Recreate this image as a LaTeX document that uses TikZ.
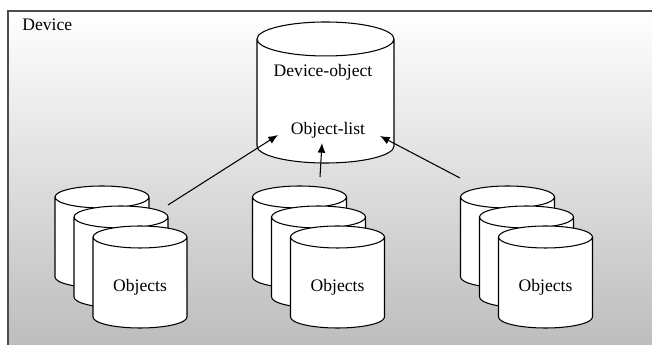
\documentclass[tikz,border=0pt]{standalone}
\usepackage{fontspec}
\setmainfont{Liberation Serif}
\usetikzlibrary{shapes.geometric,arrows.meta,positioning}

\begin{document}
\begin{tikzpicture}[
  can/.style={cylinder, shape border rotate=90, draw=black, fill=white,
    line width=0.6pt, aspect=0.234, text width=1.88cm,
    minimum height=2.04cm, inner sep=0pt, anchor=shape center},
  bigcan/.style={can, aspect=0.248, text width=2.74cm, minimum height=2.82cm},
  link/.style={-{Latex[length=5.5pt,width=4.5pt]}, line width=0.6pt}
]
\useasboundingbox (0,0) rectangle (13.04,6.9);
\clip (0,0) rectangle (13.04,6.9);

% Device frame
\shade[top color=white, bottom color=black!27] (0.16,6.68) rectangle (13.3,-0.3);
\draw[black!70, line width=0.8pt] (0.16,-0.3) -- (0.16,6.68) -- (13.3,6.68);
\node[anchor=west, inner sep=0pt] (device) at (0.44,6.4) {Device};

% Device-object
\node[bigcan] (devobj) at (6.51,5.05) {};
\node (devname) at (6.46,5.46) {Device-object};
\node (objlist) at (6.56,4.30) {Object-list};

% Objects, left
\node[can] (lback) at (2.04,2.16) {};
\node[can] (lmid) at (2.42,1.76) {};
\node[can] (lfront) at (2.80,1.36) {};
\node (lobj) at ([yshift=-0.2cm]lfront.shape center) {Objects};

% Objects, middle
\node[can] (mback) at (5.99,2.16) {};
\node[can] (mmid) at (6.37,1.76) {};
\node[can] (mfront) at (6.75,1.36) {};
\node (mobj) at ([yshift=-0.2cm]mfront.shape center) {Objects};

% Objects, right
\node[can] (rback) at (10.15,2.16) {};
\node[can] (rmid) at (10.53,1.76) {};
\node[can] (rfront) at (10.91,1.36) {};
\node (robj) at ([yshift=-0.2cm]rfront.shape center) {Objects};

% Links to the object list
\coordinate (ltail) at (3.36,2.80);
\coordinate (mtail) at (6.40,3.36);
\coordinate (rtail) at (9.20,3.34);
\coordinate (ltip) at (5.56,4.20);
\coordinate (mtip) at (6.44,4.04);
\coordinate (rtip) at (7.60,4.18);
\draw[link] (ltail) -- (ltip);
\draw[link] (mtail) -- (mtip);
\draw[link] (rtail) -- (rtip);

\end{tikzpicture}
\end{document}
